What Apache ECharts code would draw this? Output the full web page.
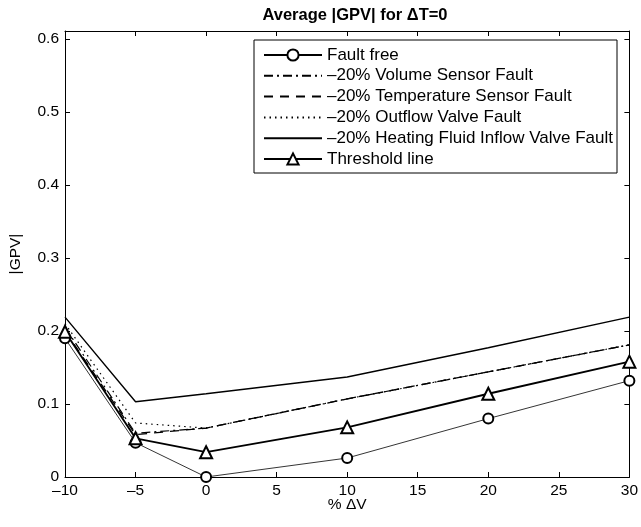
<!DOCTYPE html>
<html>
<head>
<meta charset="utf-8">
<script src="https://cdn.jsdelivr.net/npm/echarts@6/dist/echarts.min.js"></script>
<style>html,body{margin:0;padding:0;background:#fff;}#c{width:641px;height:527px;}</style>
</head>
<body>
<div id="c"></div>
<script>
const xValues = [-10, -5, 0, 10, 20, 30];
const faultFree = [0.190, 0.047, 0.000, 0.026, 0.080, 0.132];
const volumeSensor = [0.205, 0.060, 0.067, 0.107, 0.144, 0.181];
const temperatureSensor = [0.200, 0.058, 0.067, 0.107, 0.144, 0.181];
const outflowValve = [0.210, 0.074, 0.067, 0.107, 0.144, 0.181];
const heatingValve = [0.219, 0.103, 0.114, 0.137, 0.177, 0.219];
const threshold = [0.199, 0.053, 0.034, 0.068, 0.114, 0.158];
const seriesNames = ['Fault free', '–20% Volume Sensor Fault', '–20% Temperature Sensor Fault', '–20% Outflow Valve Fault', '–20% Heating Fluid Inflow Valve Fault', 'Threshold line'];

const pair = arr => xValues.map((x, i) => [x, arr[i]]);
const FONT = 'Liberation Sans, Arial, Helvetica, sans-serif';

function mk(name, arr, lineStyle, symbol, symbolSize, borderW) {
  return {
    name: name, type: 'line', data: pair(arr),
    symbol: symbol || 'none', symbolSize: symbolSize || 0,
    showSymbol: !!symbol,
    lineStyle: Object.assign({color: '#000'}, lineStyle),
    itemStyle: symbol
      ? {color: '#000', borderColor: '#000', borderWidth: borderW || 1}
      : {color: 'rgba(0,0,0,0)', borderColor: 'rgba(0,0,0,0)', borderWidth: 0},
    emphasis: {disabled: true}
  };
}

const chart = echarts.init(document.getElementById('c'), null, {renderer: 'canvas'});
const axisCommon = {
  axisLine: {show: true, onZero: false, lineStyle: {color: '#000', width: 1}},
  axisTick: {show: true, inside: true, length: 5, lineStyle: {color: '#000'}},
  splitLine: {show: false}
};
chart.setOption({
  animation: false,
  backgroundColor: '#fff',
  title: {
    text: 'Average |GPV| for ΔT=0', left: 350, textAlign: 'center', top: 2,
    textStyle: {fontFamily: FONT, fontSize: 16.5, fontWeight: 'bold', color: '#000'}
  },
  grid: {left: 65, right: 10, top: 31, bottom: 50, containLabel: false},
  legend: {
    orient: 'vertical', left: 254, top: 40,
    data: seriesNames,
    itemWidth: 58, itemHeight: 14, itemGap: 3.8,
    padding: [6.5, 4, 5.5, 9],
    borderColor: '#000', borderWidth: 1, backgroundColor: '#fff',
    textStyle: {fontFamily: FONT, fontSize: 17, lineHeight: 17, color: '#000'},
    selectedMode: false
  },
  xAxis: [
    Object.assign({
      type: 'value', min: -10, max: 30, interval: 5, position: 'bottom',
      name: '% ΔV', nameLocation: 'middle', nameGap: 20, nameMoveOverlap: false,
      nameTextStyle: {fontFamily: FONT, fontSize: 15.5, color: '#000'},
      axisLabel: {fontFamily: FONT, fontSize: 15.5, color: '#000', margin: 6,
        formatter: v => v < 0 ? '–' + Math.abs(v) : String(v)}
    }, axisCommon),
    Object.assign({
      type: 'value', min: -10, max: 30, interval: 5, position: 'top',
      axisLabel: {show: false}
    }, axisCommon)
  ],
  yAxis: [
    Object.assign({
      type: 'value', min: 0, max: 0.611, interval: 0.1, position: 'left',
      name: '|GPV|', nameLocation: 'middle', nameGap: 41, nameMoveOverlap: false,
      nameTextStyle: {fontFamily: FONT, fontSize: 15.5, color: '#000'},
      axisLabel: {fontFamily: FONT, fontSize: 15.5, color: '#000', margin: 6,
        showMaxLabel: false,
        formatter: v => {
          const r = Math.round(v * 10);
          if (Math.abs(v * 10 - r) > 1e-6) return '';
          return r === 0 ? '0' : (r / 10).toFixed(1);
        }}
    }, axisCommon),
    Object.assign({
      type: 'value', min: 0, max: 0.611, interval: 0.1, position: 'right',
      axisLabel: {show: false}
    }, axisCommon)
  ],
  series: [
    mk(seriesNames[0], faultFree, {width: 0.8}, 'emptyCircle', 10, 0.9),
    mk(seriesNames[1], volumeSensor, {width: 1.2, type: [9, 4, 2, 4]}),
    mk(seriesNames[2], temperatureSensor, {width: 1.3, type: [9, 7]}),
    mk(seriesNames[3], outflowValve, {width: 1.2, type: [1.5, 4]}),
    mk(seriesNames[4], heatingValve, {width: 1.4}),
    mk(seriesNames[5], threshold, {width: 1.9}, 'emptyTriangle', 12, 1.8)
  ]
});
</script>
</body>
</html>
